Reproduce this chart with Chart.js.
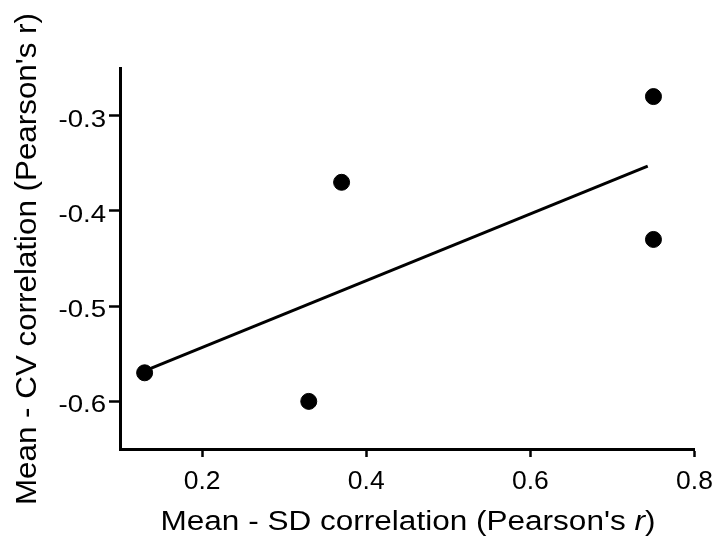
<!DOCTYPE html>
<html>
<head>
<meta charset="utf-8">
<title>Mean - SD vs Mean - CV correlation</title>
<script src="https://cdn.jsdelivr.net/npm/chart.js@4.4.1/dist/chart.umd.min.js"></script>
<style>
    html, body { margin: 0; padding: 0; background: #ffffff; }
    #scatterChart { display: block; }
</style>
</head>
<body>
<canvas id="scatterChart" width="718" height="539"></canvas>
<script>
// data
const meanSdR = [0.13, 0.33, 0.37, 0.75, 0.75];
const meanCvR = [-0.57, -0.60, -0.37, -0.28, -0.43];

// fitted line end points as drawn
const fitX = [0.13, 0.743];
const fitY = [-0.568, -0.353];

const xTicks = [0.2, 0.4, 0.6, 0.8];
const yTicks = [-0.6, -0.5, -0.4, -0.3];
const xTickLabels = ['0.2', '0.4', '0.6', '0.8'];
const yTickLabels = ['-0.6', '-0.5', '-0.4', '-0.3'];

const xTitle = ['Mean - SD correlation (Pearson\'s ', 'r', ')'];
const yTitle = 'Mean - CV correlation (Pearson\'s r)';

const fontFamily = '"Liberation Sans", Arial, sans-serif';
const ink = '#000000';

const points = meanSdR.map((x, i) => ({ x: x, y: meanCvR[i] }));
const fitLine = fitX.map((x, i) => ({ x: x, y: fitY[i] }));

// the original uses a wide sans face, so labels and titles are drawn by hand
// and stretched sideways to the measured widths
function wideText(ctx, text, x, y, sx, align) {
    ctx.save();
    ctx.translate(x, y);
    ctx.scale(sx, 1);
    ctx.textAlign = align;
    ctx.fillText(text, 0, 0);
    ctx.restore();
}

const axisText = {
    id: 'axisText',
    afterDraw(chart) {
        const ctx = chart.ctx;
        const xs = chart.scales.x;
        const ys = chart.scales.y;
        ctx.save();
        ctx.fillStyle = ink;
        ctx.textBaseline = 'alphabetic';

        // tick labels
        ctx.font = '25px ' + fontFamily;
        xTicks.forEach((v, i) => {
            wideText(ctx, xTickLabels[i], xs.getPixelForValue(v), 489, 1.06, 'center');
        });
        ctx.font = '24px ' + fontFamily;
        yTicks.forEach((v, i) => {
            wideText(ctx, yTickLabels[i], 106, ys.getPixelForValue(v) + 11, 1.15, 'right');
        });

        // x title, the r in italics
        const fonts = ['27px ' + fontFamily, 'italic 27px ' + fontFamily, '27px ' + fontFamily];
        const widths = xTitle.map((t, i) => { ctx.font = fonts[i]; return ctx.measureText(t).width; });
        const total = widths.reduce((a, b) => a + b, 0);
        ctx.save();
        ctx.translate(408, 530);
        ctx.scale(495 / total, 1);
        ctx.textAlign = 'left';
        let cur = -total / 2;
        xTitle.forEach((t, i) => {
            ctx.font = fonts[i];
            ctx.fillText(t, cur, 0);
            cur += widths[i];
        });
        ctx.restore();

        // y title, rotated
        ctx.save();
        ctx.font = '29px ' + fontFamily;
        ctx.textAlign = 'center';
        const w = ctx.measureText(yTitle).width;
        ctx.translate(36, 259);
        ctx.rotate(-Math.PI / 2);
        ctx.scale(492 / w, 1);
        ctx.fillText(yTitle, 0, 0);
        ctx.restore();

        ctx.restore();
    }
};

const ctx = document.getElementById('scatterChart').getContext('2d');

new Chart(ctx, {
    data: {
        datasets: [{
            type: 'line',
            data: fitLine,
            borderColor: ink,
            borderWidth: 3,
            pointRadius: 0,
            fill: false,
            order: 2
        }, {
            type: 'scatter',
            data: points,
            backgroundColor: ink,
            borderColor: ink,
            pointRadius: 8,
            pointHoverRadius: 8,
            order: 1
        }]
    },
    options: {
        responsive: false,
        animation: false,
        devicePixelRatio: 1,
        layout: { padding: { left: 0, right: 23.5, top: 68, bottom: 0 } },
        plugins: {
            legend: { display: false },
            tooltip: { enabled: false }
        },
        scales: {
            x: {
                type: 'linear',
                position: 'bottom',
                min: 0.1,
                max: 0.8,
                afterBuildTicks: (scale) => { scale.ticks = xTicks.map(v => ({ value: v })); },
                afterFit: (scale) => { scale.height = 90; },
                grid: {
                    drawOnChartArea: false,
                    drawTicks: true,
                    tickLength: 8,
                    tickColor: ink,
                    tickWidth: 2.5
                },
                border: { display: true, color: ink, width: 3 },
                ticks: { display: false }
            },
            y: {
                type: 'linear',
                min: -0.65,
                max: -0.25,
                afterBuildTicks: (scale) => { scale.ticks = yTicks.map(v => ({ value: v })); },
                afterFit: (scale) => { scale.width = 120; },
                grid: {
                    drawOnChartArea: false,
                    drawTicks: true,
                    tickLength: 11,
                    tickColor: ink,
                    tickWidth: 2.5
                },
                border: { display: true, color: ink, width: 3 },
                ticks: { display: false }
            }
        }
    },
    plugins: [axisText]
});
</script>
</body>
</html>
